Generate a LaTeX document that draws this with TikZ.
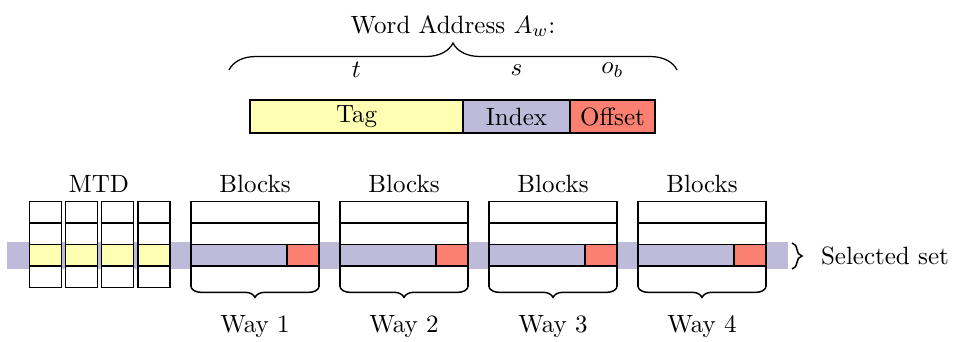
\documentclass[tikz,border=0pt]{standalone}
\usetikzlibrary{decorations.pathreplacing}
\definecolor{tagc}{HTML}{FFFFB3}
\definecolor{idxc}{HTML}{BEBADA}
\definecolor{offc}{HTML}{FB8072}
\begin{document}
\begin{tikzpicture}[x=0.4pt,y=-0.4pt,
  box/.style={draw=black, line width=0.5pt, inner sep=0pt, outer sep=0pt, anchor=north west},
  cellbox/.style={box, fill=white, minimum width=12.8pt, minimum height=8.56pt},
  bline/.style={draw=black, line width=0.5pt},
  bracedown/.style={decorate, decoration={brace, mirror, amplitude=4pt}, line width=0.6pt},
  lbl/.style={inner sep=1pt}]
\useasboundingbox (0,0) rectangle (953,341);

% selected-set band behind the arrays
\fill[idxc] (7,242) rectangle (788,269);

% address split
\node[lbl] (title) at (453,26) {Word Address $A_w$:};
\coordinate (brL) at (229,70);
\coordinate (brR) at (677,70);
\draw[decorate, decoration={brace, amplitude=10.8pt}, line width=0.5pt] (brL) -- (brR);
\node[lbl] (ft) at (356.5,70) {$t$};
\node[lbl] (fs) at (516.5,70) {$s$};
\node[lbl] (fo) at (612.5,70) {$o_b$};

\node[box, fill=tagc, minimum width=85.2pt, minimum height=13.2pt] (tag) at (250,100) {Tag};
\node[box, fill=idxc, minimum width=42.8pt, minimum height=13.2pt] (index) at (463,100) {Index};
\node[box, fill=offc, minimum width=34pt, minimum height=13.2pt] (offset) at (570,100) {Offset};

% metadata columns
\node[lbl] (mtd) at (99,184) {MTD};
\foreach \c in {0,1,2,3} {
  \foreach \r in {0,1,3} {
    \node[cellbox] (m-\c-\r) at ({29.3+36.2*\c},{201.7+21.4*\r}) {};
  }
  \node[cellbox, fill=tagc] (m-\c-2) at ({29.3+36.2*\c},244.5) {};
}

% the four ways
\foreach \k/\x in {1/191,2/340,3/489,4/638} {
  \node[lbl] (blk\k) at (\x+64,184) {Blocks};
  \coordinate (tl\k) at (\x,201.7);
  \coordinate (tr\k) at (\x+128,201.7);
  \coordinate (bl\k) at (\x,287.3);
  \coordinate (br\k) at (\x+128,287.3);
  \fill[white] (tl\k) rectangle (br\k);
  \draw[bline] (bl\k) -- (tl\k) -- (tr\k) -- (br\k);
  \draw[bline] (\x,223.1) -- (\x+128,223.1);
  \node[box, fill=idxc, minimum width=38.4pt, minimum height=8.56pt] (bi\k) at (\x,244.5) {};
  \node[box, fill=offc, minimum width=12.8pt, minimum height=8.56pt] (bo\k) at (\x+96,244.5) {};
  \draw[bracedown] (bl\k) -- (br\k);
  \node[lbl] (way\k) at (\x+64,327) {Way \k};
}

% selected set marker
\coordinate (ssT) at (792,243);
\coordinate (ssB) at (792,269);
\draw[decorate, decoration={brace, amplitude=4pt}, line width=0.6pt] (ssT) -- (ssB);
\node[lbl, anchor=west] (sel) at (818,256) {Selected set};
\end{tikzpicture}
\end{document}
